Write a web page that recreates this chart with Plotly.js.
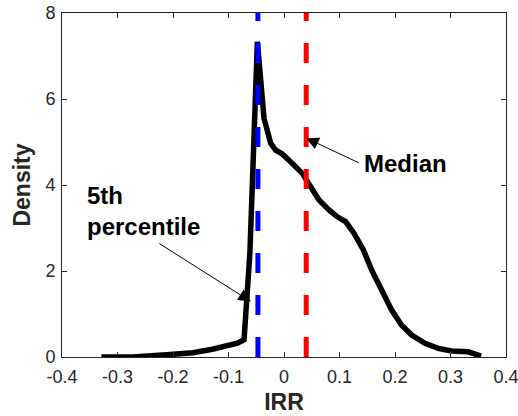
<!DOCTYPE html>
<html>
<head>
<meta charset="utf-8">
<script src="https://cdn.plot.ly/plotly-3.0.1.min.js"></script>
<style>html,body{margin:0;padding:0;background:#fff;}#chart{width:518px;height:416px;}</style>
</head>
<body>
<div id="chart"></div>
<script>
// Density curve of IRR
const irr = [-0.329, -0.272, -0.212, -0.164, -0.129, -0.099, -0.084, -0.072, -0.066, -0.0615, -0.057, -0.052, -0.048,
  -0.036, -0.024, -0.015, -0.003, 0.015, 0.033, 0.048, 0.063, 0.081, 0.096, 0.111, 0.126, 0.143, 0.158, 0.176,
  0.194, 0.212, 0.230, 0.254, 0.278, 0.302, 0.332, 0.355];
const density = [0.0, 0.0, 0.05, 0.10, 0.18, 0.26, 0.32, 0.40, 1.33, 2.41, 4.04, 5.98, 7.33,
  5.55, 4.97, 4.81, 4.72, 4.50, 4.27, 3.96, 3.65, 3.42, 3.26, 3.15, 2.88, 2.49, 2.02, 1.56,
  1.09, 0.74, 0.51, 0.32, 0.20, 0.14, 0.12, 0.02];
const p5 = -0.047;
const median = 0.040;
const vlineY = [0, 8];

const xTickVals = [-0.4, -0.3, -0.2, -0.1, 0, 0.1, 0.2, 0.3, 0.4];
const xTickText = ["-0.4", "-0.3", "-0.2", "-0.1", "0", "0.1", "0.2", "0.3", "0.4"];
const yTickVals = [0, 2, 4, 6, 8];
const yTickText = ["0", "2", "4", "6", "8"];

const axisColor = '#262626';
const font = 'Liberation Sans, Arial, Helvetica, sans-serif';

const traces = [
  {x: irr, y: density, mode: 'lines', line: {color: '#000000', width: 5.5}, hoverinfo: 'skip'},
  {x: [p5, p5], y: vlineY, mode: 'lines', line: {color: '#0000FF', width: 5, dash: '20px,22px'}},
  {x: [median, median], y: vlineY, mode: 'lines', line: {color: '#FF0000', width: 5, dash: '20px,22px'}}
];

const axisBase = {
  showgrid: false, zeroline: false, showline: true, linecolor: axisColor, linewidth: 1,
  mirror: 'ticks', ticks: 'inside', ticklen: 5, tickcolor: axisColor, tickwidth: 1,
  tickfont: {family: font, size: 18, color: axisColor}, tickmode: 'array'
};

const layout = {
  width: 518, height: 416,
  margin: {l: 62, r: 12, t: 13, b: 59},
  paper_bgcolor: '#fff', plot_bgcolor: '#fff',
  showlegend: false,
  xaxis: Object.assign({}, axisBase, {
    range: [-0.4, 0.4], tickvals: xTickVals, ticktext: xTickText, ticklabeloverflow: 'allow',
    ticklabelstandoff: 3,
    title: {text: 'IRR', font: {family: font, size: 23, color: axisColor, weight: 'bold'}, standoff: 8}
  }),
  yaxis: Object.assign({}, axisBase, {
    range: [0, 8], tickvals: yTickVals, ticktext: yTickText, ticklabelstandoff: 2,
    title: {text: 'Density', font: {family: font, size: 23, color: axisColor, weight: 'bold'}, standoff: 8}
  }),
  annotations: [
    {x: 0.040, y: 5.09, ax: 0.1376, ay: 4.50, xref: 'x', yref: 'y', axref: 'x', ayref: 'y',
     text: '', showarrow: true, arrowhead: 2, arrowsize: 2.5, arrowwidth: 1, arrowcolor: '#000'},
    {x: 0.140, y: 4.50, xref: 'x', yref: 'y', text: '<b>Median</b>', showarrow: false,
     xanchor: 'left', yanchor: 'middle', font: {family: font, size: 24, color: '#000'}},
    {x: -0.0597, y: 1.29, ax: -0.2273, ay: 2.66, xref: 'x', yref: 'y', axref: 'x', ayref: 'y',
     text: '', showarrow: true, arrowhead: 2, arrowsize: 2.5, arrowwidth: 1, arrowcolor: '#000'},
    {x: -0.3587, y: 3.40, xref: 'x', yref: 'y', text: '<b>5th<br>percentile</b>', showarrow: false,
     xanchor: 'left', yanchor: 'middle', align: 'left', font: {family: font, size: 24, color: '#000'}}
  ]
};

Plotly.newPlot('chart', traces, layout, {displayModeBar: false, staticPlot: true});
</script>
</body>
</html>
